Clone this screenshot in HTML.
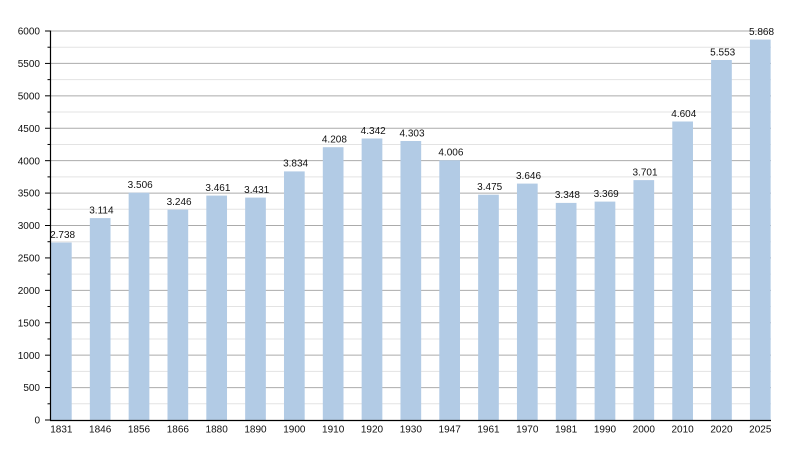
<!DOCTYPE html>
<html><head><meta charset="utf-8"><style>
html,body{margin:0;padding:0;background:#fff;}
svg{display:block;}
text{font-family:"Liberation Sans",Arial,sans-serif;font-size:10px;fill:#111;}
</style></head><body>
<svg width="800" height="450" viewBox="0 0 800 450" xmlns="http://www.w3.org/2000/svg">
<rect width="800" height="450" fill="#fff"/>
<g stroke="#e3e3e3" stroke-width="1">
<line x1="50" x2="771" y1="403.79" y2="403.79"/>
<line x1="50" x2="771" y1="371.38" y2="371.38"/>
<line x1="50" x2="771" y1="338.96" y2="338.96"/>
<line x1="50" x2="771" y1="306.54" y2="306.54"/>
<line x1="50" x2="771" y1="274.13" y2="274.13"/>
<line x1="50" x2="771" y1="241.71" y2="241.71"/>
<line x1="50" x2="771" y1="209.29" y2="209.29"/>
<line x1="50" x2="771" y1="176.88" y2="176.88"/>
<line x1="50" x2="771" y1="144.46" y2="144.46"/>
<line x1="50" x2="771" y1="112.04" y2="112.04"/>
<line x1="50" x2="771" y1="79.63" y2="79.63"/>
<line x1="50" x2="771" y1="47.21" y2="47.21"/>
</g>
<g stroke="#ababab" stroke-width="1">
<line x1="50" x2="771" y1="387.58" y2="387.58"/>
<line x1="50" x2="771" y1="355.17" y2="355.17"/>
<line x1="50" x2="771" y1="322.75" y2="322.75"/>
<line x1="50" x2="771" y1="290.33" y2="290.33"/>
<line x1="50" x2="771" y1="257.92" y2="257.92"/>
<line x1="50" x2="771" y1="225.5" y2="225.5"/>
<line x1="50" x2="771" y1="193.08" y2="193.08"/>
<line x1="50" x2="771" y1="160.67" y2="160.67"/>
<line x1="50" x2="771" y1="128.25" y2="128.25"/>
<line x1="50" x2="771" y1="95.83" y2="95.83"/>
<line x1="50" x2="771" y1="63.42" y2="63.42"/>
<line x1="50" x2="771" y1="31" y2="31"/>
</g>
<g fill="#b2cbe5">
<rect x="51" y="242.5" width="20.7" height="177.5"/>
<rect x="89.83" y="218.1" width="20.7" height="201.9"/>
<rect x="128.66" y="192.7" width="20.7" height="227.3"/>
<rect x="167.49" y="209.6" width="20.7" height="210.4"/>
<rect x="206.32" y="195.6" width="20.7" height="224.4"/>
<rect x="245.15" y="197.6" width="20.7" height="222.4"/>
<rect x="283.98" y="171.4" width="20.7" height="248.6"/>
<rect x="322.81" y="147.2" width="20.7" height="272.8"/>
<rect x="361.64" y="138.5" width="20.7" height="281.5"/>
<rect x="400.47" y="141.0" width="20.7" height="279.0"/>
<rect x="439.3" y="160.3" width="20.7" height="259.7"/>
<rect x="478.13" y="194.7" width="20.7" height="225.3"/>
<rect x="516.96" y="183.6" width="20.7" height="236.4"/>
<rect x="555.79" y="202.9" width="20.7" height="217.1"/>
<rect x="594.62" y="201.6" width="20.7" height="218.4"/>
<rect x="633.45" y="180.1" width="20.7" height="239.9"/>
<rect x="672.28" y="121.5" width="20.7" height="298.5"/>
<rect x="711.11" y="60.0" width="20.7" height="360.0"/>
<rect x="749.94" y="39.6" width="20.7" height="380.4"/>
</g>
<g stroke="#000" stroke-width="1.2">
<line x1="50.5" x2="50.5" y1="30.5" y2="420.5"/>
<line x1="50" x2="771" y1="420.5" y2="420.5"/>
</g>
<g stroke="#000" stroke-width="1">
<line x1="45" x2="50" y1="420" y2="420"/>
<line x1="45" x2="50" y1="387.58" y2="387.58"/>
<line x1="45" x2="50" y1="355.17" y2="355.17"/>
<line x1="45" x2="50" y1="322.75" y2="322.75"/>
<line x1="45" x2="50" y1="290.33" y2="290.33"/>
<line x1="45" x2="50" y1="257.92" y2="257.92"/>
<line x1="45" x2="50" y1="225.5" y2="225.5"/>
<line x1="45" x2="50" y1="193.08" y2="193.08"/>
<line x1="45" x2="50" y1="160.67" y2="160.67"/>
<line x1="45" x2="50" y1="128.25" y2="128.25"/>
<line x1="45" x2="50" y1="95.83" y2="95.83"/>
<line x1="45" x2="50" y1="63.42" y2="63.42"/>
<line x1="45" x2="50" y1="31" y2="31"/>
<line x1="47.5" x2="50" y1="403.79" y2="403.79"/>
<line x1="47.5" x2="50" y1="371.38" y2="371.38"/>
<line x1="47.5" x2="50" y1="338.96" y2="338.96"/>
<line x1="47.5" x2="50" y1="306.54" y2="306.54"/>
<line x1="47.5" x2="50" y1="274.13" y2="274.13"/>
<line x1="47.5" x2="50" y1="241.71" y2="241.71"/>
<line x1="47.5" x2="50" y1="209.29" y2="209.29"/>
<line x1="47.5" x2="50" y1="176.88" y2="176.88"/>
<line x1="47.5" x2="50" y1="144.46" y2="144.46"/>
<line x1="47.5" x2="50" y1="112.04" y2="112.04"/>
<line x1="47.5" x2="50" y1="79.63" y2="79.63"/>
<line x1="47.5" x2="50" y1="47.21" y2="47.21"/>
</g>
<g text-anchor="end">
<text x="40" y="423.6">0</text>
<text x="40" y="391.2">500</text>
<text x="40" y="358.8">1000</text>
<text x="40" y="326.4">1500</text>
<text x="40" y="293.9">2000</text>
<text x="40" y="261.5">2500</text>
<text x="40" y="229.1">3000</text>
<text x="40" y="196.7">3500</text>
<text x="40" y="164.3">4000</text>
<text x="40" y="131.9">4500</text>
<text x="40" y="99.4">5000</text>
<text x="40" y="67.0">5500</text>
<text x="40" y="34.6">6000</text>
</g>
<g text-anchor="middle">
<text x="61.35" y="432.5">1831</text>
<text x="100.18" y="432.5">1846</text>
<text x="139.01" y="432.5">1856</text>
<text x="177.84" y="432.5">1866</text>
<text x="216.67" y="432.5">1880</text>
<text x="255.5" y="432.5">1890</text>
<text x="294.33" y="432.5">1900</text>
<text x="333.16" y="432.5">1910</text>
<text x="371.99" y="432.5">1920</text>
<text x="410.82" y="432.5">1930</text>
<text x="449.65" y="432.5">1947</text>
<text x="488.48" y="432.5">1961</text>
<text x="527.31" y="432.5">1970</text>
<text x="566.14" y="432.5">1981</text>
<text x="604.97" y="432.5">1990</text>
<text x="643.8" y="432.5">2000</text>
<text x="682.63" y="432.5">2010</text>
<text x="721.46" y="432.5">2020</text>
<text x="760.29" y="432.5">2025</text>
</g>
<g text-anchor="middle">
<text x="62.6" y="237.8">2.738</text>
<text x="101.4" y="213.4">3.114</text>
<text x="140.2" y="188.0">3.506</text>
<text x="179.1" y="204.9">3.246</text>
<text x="217.9" y="190.9">3.461</text>
<text x="256.7" y="192.9">3.431</text>
<text x="295.6" y="166.7">3.834</text>
<text x="334.4" y="142.5">4.208</text>
<text x="373.2" y="133.8">4.342</text>
<text x="412.0" y="136.3">4.303</text>
<text x="450.9" y="155.6">4.006</text>
<text x="489.7" y="190.0">3.475</text>
<text x="528.5" y="178.9">3.646</text>
<text x="567.4" y="198.2">3.348</text>
<text x="606.2" y="196.9">3.369</text>
<text x="645.0" y="175.4">3.701</text>
<text x="683.8" y="116.8">4.604</text>
<text x="722.7" y="55.3">5.553</text>
<text x="761.5" y="34.9">5.868</text>
</g>
</svg>
</body></html>
